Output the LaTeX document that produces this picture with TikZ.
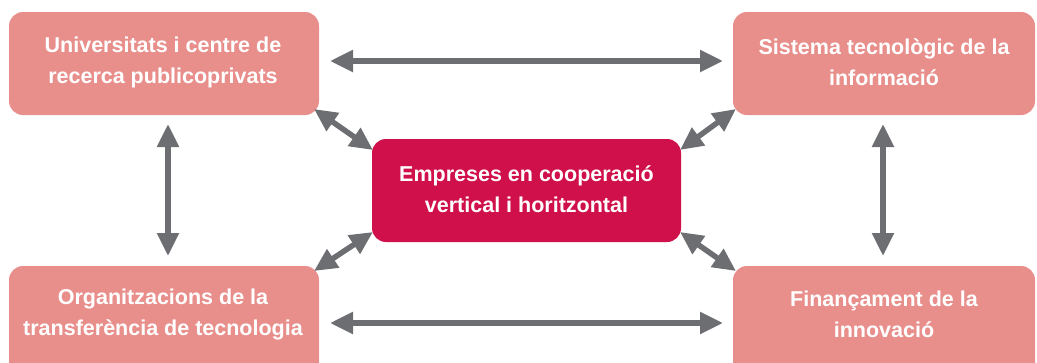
\documentclass[tikz,border=0pt]{standalone}
\usepackage{fontspec}
\setmainfont{Liberation Sans}
\usetikzlibrary{arrows.meta}
\definecolor{boxpink}{HTML}{E88F8C}
\definecolor{boxred}{HTML}{D0104A}
\definecolor{arrgray}{HTML}{6D6E71}
\begin{document}
\begin{tikzpicture}[x=1pt,y=-1pt,
  lbl/.style={text=white, font=\bfseries\fontsize{21.5}{31}\selectfont, align=center, inner sep=0pt},
  pinkbox/.style={fill=boxpink, rounded corners=14pt},
  redbox/.style={fill=boxred, rounded corners=14pt},
  link/.style={draw=arrgray, line width=5.5pt, {Triangle[length=23pt,width=21pt]}-{Triangle[length=23pt,width=21pt]}}]
\useasboundingbox (0,0) rectangle (1037,362);
\fill[pinkbox] (9,12) rectangle (319,115);
\fill[pinkbox] (733,12) rectangle (1035,115);
\fill[pinkbox] (9,266) rectangle (319,380);
\fill[pinkbox] (733,266) rectangle (1035,380);
\fill[redbox] (372,139) rectangle (681,242);
\node[lbl] (tul) at (163,62) {Universitats i centre de\\recerca publicoprivats};
\node[lbl] (tur) at (884,62) {Sistema tecnològic de la\\informació};
\node[lbl] (tll) at (163,314) {Organitzacions de la\\transferència de tecnologia};
\node[lbl] (tlr) at (884,314) {Finançament de la\\innovació};
\node[lbl] (tc) at (526.5,189) {Empreses en cooperació\\vertical i horitzontal};
\coordinate (a1) at (330,61); \coordinate (a2) at (723,61);
\coordinate (b1) at (330,323); \coordinate (b2) at (723,323);
\coordinate (v1) at (168,124); \coordinate (v2) at (168,256);
\coordinate (w1) at (883,124); \coordinate (w2) at (883,256);
\coordinate (d1) at (314,109); \coordinate (d2) at (373,150);
\coordinate (e1) at (736,109); \coordinate (e2) at (680,150);
\coordinate (f1) at (314,271); \coordinate (f2) at (373,232);
\coordinate (g1) at (736,271); \coordinate (g2) at (680,232);
\draw[link] (a1) -- (a2);
\draw[link] (b1) -- (b2);
\draw[link] (v1) -- (v2);
\draw[link] (w1) -- (w2);
\draw[link] (d1) -- (d2);
\draw[link] (e1) -- (e2);
\draw[link] (f1) -- (f2);
\draw[link] (g1) -- (g2);
\end{tikzpicture}
\end{document}
